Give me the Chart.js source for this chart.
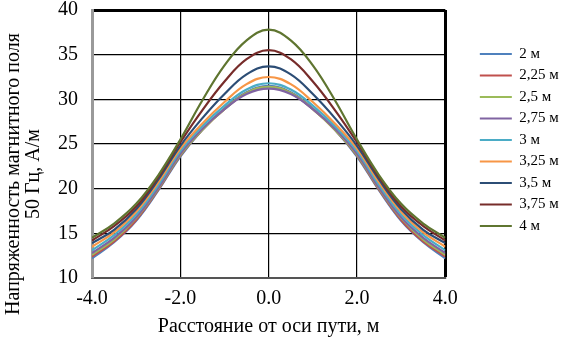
<!DOCTYPE html>
<html lang="ru">
<head>
<meta charset="UTF-8">
<title>Напряженность магнитного поля</title>
<script src="https://cdn.jsdelivr.net/npm/chart.js"></script>
<style>
  html, body { margin: 0; padding: 0; background: #fff; }
  #wrap { width: 569px; height: 339px; }
</style>
</head>
<body>
<div id="wrap"><canvas id="chart"></canvas></div>
<script>
// расстояние от оси пути, м
const xs = [-4, -3.5, -3, -2.5, -2, -1.5, -1, -0.5, 0, 0.5, 1, 1.5, 2, 2.5, 3, 3.5, 4];

const labels = ['2 м', '2,25 м', '2,5 м', '2,75 м', '3 м', '3,25 м', '3,5 м', '3,75 м', '4 м'];
const colors = ['#4F81BD', '#C0504D', '#9BBB59', '#8064A2', '#4BACC6', '#F79646', '#2C4D75', '#772C2A', '#5F7530'];

// напряженность, А/м
const h200 = [12.2, 14.0, 16.4, 19.8, 23.6, 26.6, 29.0, 30.8, 31.5, 30.8, 29.0, 26.6, 23.6, 19.8, 16.4, 14.0, 12.2];
const h225 = [12.4, 14.1, 16.5, 19.9, 23.7, 26.6, 28.9, 30.7, 31.4, 30.7, 28.9, 26.6, 23.7, 19.9, 16.5, 14.1, 12.4];
const h250 = [12.6, 14.3, 16.7, 20.0, 23.8, 26.6, 28.9, 30.7, 31.4, 30.7, 28.9, 26.6, 23.8, 20.0, 16.7, 14.3, 12.6];
const h275 = [12.8, 14.5, 16.8, 20.1, 23.9, 26.7, 28.9, 30.6, 31.2, 30.6, 28.9, 26.7, 23.9, 20.1, 16.8, 14.5, 12.8];
const h300 = [13.1, 14.8, 17.1, 20.4, 24.2, 27.0, 29.3, 31.1, 31.8, 31.1, 29.3, 27.0, 24.2, 20.4, 17.1, 14.8, 13.1];
const h325 = [13.5, 15.1, 17.4, 20.7, 24.5, 27.3, 29.7, 31.7, 32.5, 31.7, 29.7, 27.3, 24.5, 20.7, 17.4, 15.1, 13.5];
const h350 = [13.9, 15.4, 17.7, 21.0, 24.8, 27.9, 30.6, 32.8, 33.7, 32.8, 30.6, 27.9, 24.8, 21.0, 17.7, 15.4, 13.9];
const h375 = [14.2, 15.8, 18.0, 21.3, 25.2, 28.8, 32.0, 34.5, 35.5, 34.5, 32.0, 28.8, 25.2, 21.3, 18.0, 15.8, 14.2];
const h400 = [14.5, 16.1, 18.3, 21.5, 25.5, 29.9, 33.8, 36.6, 37.8, 36.6, 33.8, 29.9, 25.5, 21.5, 18.3, 16.1, 14.5];
const series = [h200, h225, h250, h275, h300, h325, h350, h375, h400];

const yTicks = [10, 15, 20, 25, 30, 35, 40];
const xTicks = [-4, -2, 0, 2, 4];

const serif = '"Liberation Serif", "Times New Roman", serif';
const pad = '            '; // keeps the rotated title a little below centre, as in the original

const datasets = series.map((vals, i) => ({
  label: labels[i],
  data: vals.map((v, j) => ({ x: xs[j], y: v })),
  borderColor: colors[i],
  backgroundColor: colors[i],
  borderWidth: 2.2,
  pointRadius: 0,
  tension: 0.4,
  fill: false,
  order: series.length - i   // later series drawn on top
}));

new Chart(document.getElementById('chart'), {
  type: 'line',
  data: { datasets },
  options: {
    responsive: true,
    maintainAspectRatio: false,
    animation: false,
    layout: { padding: { top: 2, right: 1, bottom: 0, left: 0 } },
    plugins: {
      tooltip: { enabled: false },
      legend: {
        position: 'right',
        align: 'start',
        title: { display: true, text: ' ', font: { size: 10, lineHeight: 1 }, padding: { top: 28, bottom: 0 } },
        labels: {
          usePointStyle: true,
          pointStyle: 'line',
          pointStyleWidth: 32,
          padding: 6.5,
          color: '#000',
          font: { family: serif, size: 15 },
          sort: (a, b) => a.datasetIndex - b.datasetIndex
        }
      }
    },
    scales: {
      x: {
        type: 'linear',
        min: -4, max: 4,
        afterBuildTicks: s => { s.ticks = xTicks.map(v => ({ value: v })); },
        ticks: { color: '#000', padding: 0, maxRotation: 0, font: { family: serif, size: 20 }, callback: v => v.toFixed(1) },
        grid: {
          color: '#000',
          drawTicks: true,
          tickLength: 9,
          tickColor: 'rgba(0,0,0,0)',
          lineWidth: c => (c.index === xTicks.length - 1 ? 3 : 1.2)
        },
        border: { color: '#555', width: 2 },
        title: { display: true, text: 'Расстояние от оси пути, м', color: '#000', font: { family: serif, size: 20 }, padding: { top: 4, bottom: 0 } }
      },
      y: {
        min: 10, max: 40,
        afterBuildTicks: s => { s.ticks = yTicks.map(v => ({ value: v })); },
        ticks: { color: '#000', padding: 0, font: { family: serif, size: 20, lineHeight: 1 } },
        grid: {
          color: '#000',
          drawTicks: true,
          tickLength: 14,
          tickColor: 'rgba(0,0,0,0)',
          lineWidth: c => (c.index === yTicks.length - 1 ? 3 : 1.2)
        },
        border: { color: '#9a9a9a', width: 3 },
        title: {
          display: true,
          text: ['Напряженность магнитного поля' + pad, '50 Гц, А/м' + pad],
          color: '#000',
          font: { family: serif, size: 20, lineHeight: 1 },
          padding: { top: 4, bottom: 14 }
        }
      },
      gap: {
        position: 'right',
        display: true,
        grid: { display: false },
        ticks: { display: false },
        border: { display: false },
        afterFit: s => { s.width = 28; }
      }
    }
  }
});
</script>
</body>
</html>
